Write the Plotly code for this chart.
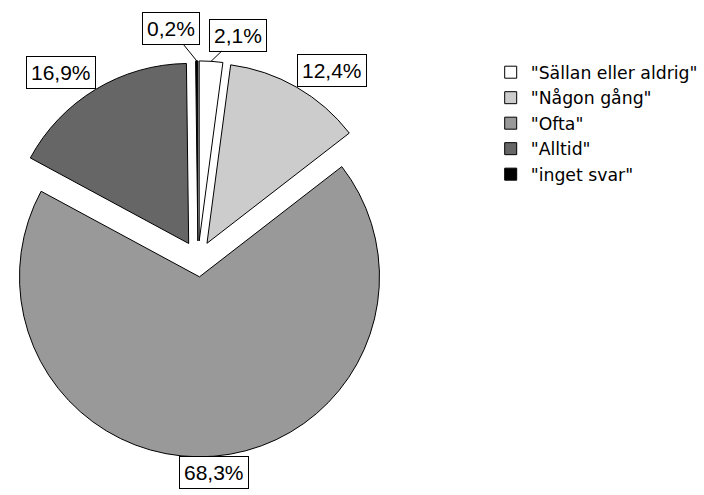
import math
import plotly.graph_objects as go

# Survey answers and their shares (percent)
labels = ['"Sällan eller aldrig"', '"Någon gång"', '"Ofta"', '"Alltid"', '"inget svar"']
values = [2.1, 12.4, 68.3, 16.9, 0.2]
colors = ["#ffffff", "#cccccc", "#999999", "#666666", "#000000"]

W, H = 704, 495
PULL = 0.1
DOM_X = [0.0, 0.5625]
DOM_Y = [0.077, 0.877]
LABEL_FONT = "Liberation Sans, Arial, sans-serif"
LEGEND_FONT = "DejaVu Sans, Arial, sans-serif"

# pixel offsets of the label box for slices too thin to hold a label at their edge
LEADER = {0: (27, -26), 4: (-26, -32)}

fig = go.Figure(
    go.Pie(
        labels=labels,
        values=values,
        sort=False,
        direction="clockwise",
        rotation=0,
        pull=PULL,
        marker=dict(colors=colors, line=dict(color="black", width=1)),
        textinfo="none",
        hoverinfo="label+percent",
        domain=dict(x=DOM_X, y=DOM_Y),
    )
)

# pie geometry in pixels, following plotly's own sizing of a pulled pie
box_w = W * (DOM_X[1] - DOM_X[0])
box_h = H * (DOM_Y[1] - DOM_Y[0])
r = min(box_w, box_h) / (2 + 2 * PULL)
cx = W * (DOM_X[0] + DOM_X[1]) / 2
cy = H * (1 - (DOM_Y[0] + DOM_Y[1]) / 2)

total = sum(values)
cum = 0.0
annotations = []
for i, v in enumerate(values):
    theta = 2 * math.pi * (cum + v / 2) / total
    cum += v
    s, c = math.sin(theta), math.cos(theta)
    px = cx + (1 + PULL) * r * s
    py = cy - (1 + PULL) * r * c
    text = f"{v:.1f}%".replace(".", ",")
    common = dict(
        x=px / W,
        y=1 - py / H,
        xref="paper",
        yref="paper",
        text=text,
        font=dict(family=LABEL_FONT, size=21, color="black"),
        bgcolor="white",
        bordercolor="black",
        borderwidth=1,
        borderpad=4,
    )
    if i in LEADER:
        ax, ay = LEADER[i]
        annotations.append(
            dict(common, showarrow=True, arrowhead=0, arrowwidth=1,
                 arrowcolor="black", ax=ax, ay=ay, standoff=0)
        )
    else:
        xa = "left" if s > 0.2 else ("right" if s < -0.2 else "center")
        ya = "bottom" if c > 0.2 else ("top" if c < -0.2 else "middle")
        annotations.append(dict(common, showarrow=False, xanchor=xa, yanchor=ya))

fig.update_layout(
    width=W,
    height=H,
    margin=dict(l=0, r=0, t=0, b=0),
    paper_bgcolor="white",
    plot_bgcolor="white",
    font=dict(family=LABEL_FONT, color="black"),
    annotations=annotations,
    showlegend=True,
    legend=dict(
        x=0.697,
        y=0.89,
        xanchor="left",
        yanchor="top",
        font=dict(family=LEGEND_FONT, size=17.3, color="black"),
        bgcolor="rgba(0,0,0,0)",
        tracegroupgap=0,
    ),
)

fig.write_html("out.html")
